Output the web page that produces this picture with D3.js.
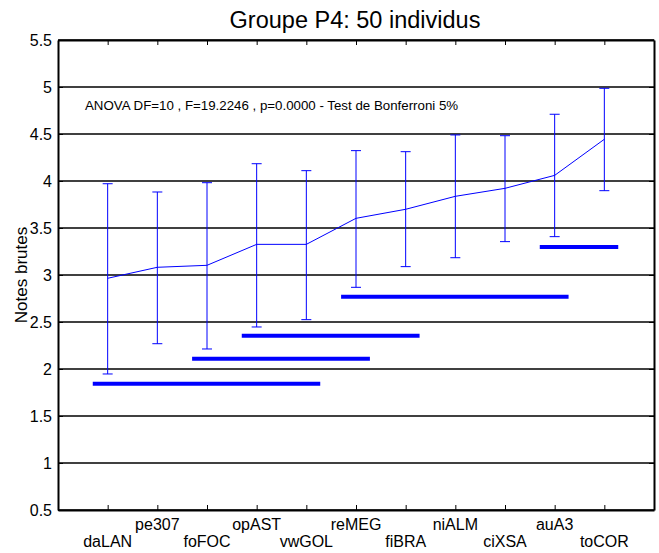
<!DOCTYPE html>
<html>
<head>
<meta charset="utf-8">
<script src="https://cdn.jsdelivr.net/npm/d3@7"></script>
<style>
  body { margin: 0; background: #fff; }
  text { font-family: "Liberation Sans", Arial, sans-serif; }
</style>
</head>
<body>
<div id="chart"></div>
<script>
const categories = ['daLAN', 'pe307', 'foFOC', 'opAST', 'vwGOL', 'reMEG', 'fiBRA', 'niALM', 'ciXSA', 'auA3', 'toCOR'];
const means = [2.965, 3.082, 3.103, 3.326, 3.326, 3.603, 3.699, 3.837, 3.922, 4.06, 4.444];
const upper = [3.971, 3.883, 3.982, 4.184, 4.11, 4.323, 4.312, 4.49, 4.482, 4.71, 4.986];
const lower = [1.947, 2.269, 2.213, 2.447, 2.525, 2.869, 3.089, 3.184, 3.355, 3.408, 3.897];
// Bonferroni groups: first and last category index, level
const groupFrom = [0, 2, 3, 5, 9];
const groupTo = [4, 5, 6, 9, 10];
const groupLevel = [1.844, 2.11, 2.354, 2.769, 3.298];
const yTicks = [0.5, 1, 1.5, 2, 2.5, 3, 3.5, 4, 4.5, 5, 5.5];

const width = 659, height = 553;
const margin = { top: 40, right: 5, bottom: 43, left: 58 };

const svg = d3.select('#chart').append('svg')
  .attr('width', width)
  .attr('height', height);

const x = d3.scaleLinear()
  .domain([0, categories.length + 1])
  .range([margin.left, width - margin.right]);

const y = d3.scaleLinear()
  .domain([0.5, 5.5])
  .range([height - margin.bottom, margin.top]);

// grid
svg.append('g')
  .selectAll('line')
  .data(yTicks)
  .join('line')
    .attr('x1', margin.left)
    .attr('x2', width - margin.right)
    .attr('y1', d => y(d))
    .attr('y2', d => y(d))
    .attr('stroke', '#000')
    .attr('stroke-width', 1.3);

const xTicks = d3.range(1, categories.length + 1);

// bottom axis, ticks pointing in
svg.append('g')
  .attr('transform', `translate(0,${y(0.5)})`)
  .call(d3.axisBottom(x).tickValues(xTicks).tickSizeInner(-5).tickSizeOuter(0).tickFormat(''))
  .call(g => g.select('.domain').attr('stroke-width', 2));

// top axis
svg.append('g')
  .attr('transform', `translate(0,${y(5.5)})`)
  .call(d3.axisTop(x).tickValues(xTicks).tickSizeInner(-5).tickSizeOuter(0).tickFormat(''))
  .call(g => g.select('.domain').attr('stroke-width', 2));

// left axis
svg.append('g')
  .attr('transform', `translate(${margin.left},0)`)
  .call(d3.axisLeft(y).tickValues(yTicks).tickSizeInner(-5).tickSizeOuter(0).tickPadding(6)
    .tickFormat(d => d3.format('')(d)))
  .call(g => g.select('.domain').attr('stroke-width', 2))
  .call(g => g.selectAll('text').attr('font-size', 16).attr('fill', '#000'));

// right axis
svg.append('g')
  .attr('transform', `translate(${width - margin.right},0)`)
  .call(d3.axisRight(y).tickValues(yTicks).tickSizeInner(-5).tickSizeOuter(0).tickFormat(''))
  .call(g => g.select('.domain').attr('stroke-width', 2));

// category labels, staggered
svg.append('g')
  .selectAll('text')
  .data(categories)
  .join('text')
    .attr('x', (d, i) => x(i + 1))
    .attr('y', (d, i) => i % 2 === 0 ? 547 : 530)
    .attr('text-anchor', 'middle')
    .attr('font-size', 16)
    .text(d => d);

// error bars
const eb = svg.append('g').attr('stroke', '#0000ff').attr('stroke-width', 1);
eb.selectAll('line.v')
  .data(categories)
  .join('line')
    .attr('class', 'v')
    .attr('x1', (d, i) => x(i + 1))
    .attr('x2', (d, i) => x(i + 1))
    .attr('y1', (d, i) => y(lower[i]))
    .attr('y2', (d, i) => y(upper[i]));
eb.selectAll('line.top')
  .data(categories)
  .join('line')
    .attr('class', 'top')
    .attr('x1', (d, i) => x(i + 1) - 5)
    .attr('x2', (d, i) => x(i + 1) + 5)
    .attr('y1', (d, i) => y(upper[i]))
    .attr('y2', (d, i) => y(upper[i]));
eb.selectAll('line.bot')
  .data(categories)
  .join('line')
    .attr('class', 'bot')
    .attr('x1', (d, i) => x(i + 1) - 5)
    .attr('x2', (d, i) => x(i + 1) + 5)
    .attr('y1', (d, i) => y(lower[i]))
    .attr('y2', (d, i) => y(lower[i]));

// mean line
svg.append('path')
  .datum(means)
  .attr('fill', 'none')
  .attr('stroke', '#0000ff')
  .attr('stroke-width', 1)
  .attr('d', d3.line().x((d, i) => x(i + 1)).y(d => y(d)));

// Bonferroni groups
svg.append('g')
  .selectAll('line')
  .data(groupLevel)
  .join('line')
    .attr('x1', (d, i) => x(groupFrom[i] + 1 - 0.3))
    .attr('x2', (d, i) => x(groupTo[i] + 1 + 0.28))
    .attr('y1', d => y(d))
    .attr('y2', d => y(d))
    .attr('stroke', '#0000ff')
    .attr('stroke-width', 4);

// title
svg.append('text')
  .attr('x', 355)
  .attr('y', 28)
  .attr('text-anchor', 'middle')
  .attr('font-size', 23.5)
  .text('Groupe P4: 50 individus');

// y label
svg.append('text')
  .attr('transform', `translate(27,${(y(0.5) + y(5.5)) / 2}) rotate(-90)`)
  .attr('text-anchor', 'middle')
  .attr('font-size', 17)
  .text('Notes brutes');

// annotation
svg.append('text')
  .attr('x', 85)
  .attr('y', 110)
  .attr('font-size', 13.3)
  .text('ANOVA DF=10 , F=19.2246 , p=0.0000 - Test de Bonferroni 5%');
</script>
</body>
</html>
